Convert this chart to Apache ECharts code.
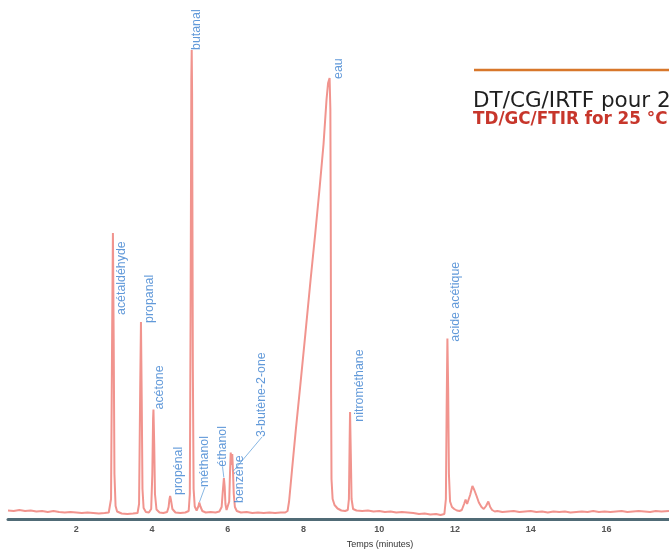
<!DOCTYPE html>
<html>
<head>
<meta charset="utf-8">
<script src="https://cdn.jsdelivr.net/npm/echarts@6/dist/echarts.min.js"></script>
<style>
  html, body { margin: 0; padding: 0; background: #ffffff; }
  #chart { width: 669px; height: 551px; }
</style>
</head>
<body>
<div id="chart"></div>
<script>
// Retention time (minutes) and detector response of the chromatogram
const times = [
  0.20, 0.35, 0.50, 0.65, 0.80, 0.95, 1.10, 1.25, 1.40, 1.55, 1.70, 1.85, 2.00, 2.15, 2.30, 2.45, 2.60, 2.75,
  2.86, 2.92, 2.95, 2.97, 2.99, 3.01, 3.04, 3.08, 3.20, 3.35, 3.50, 3.62,
  3.66, 3.69, 3.71, 3.73, 3.75, 3.78, 3.84, 3.92,
  3.98, 4.01, 4.03, 4.04, 4.06, 4.08, 4.12, 4.20, 4.30,
  4.40, 4.44, 4.46, 4.48, 4.50, 4.54, 4.62, 4.75, 4.88,
  4.97, 5.00, 5.02, 5.04, 5.05, 5.06, 5.08, 5.10, 5.13, 5.18,
  5.23, 5.25, 5.28, 5.33, 5.42, 5.55, 5.68, 5.78,
  5.84, 5.87, 5.90, 5.92, 5.94, 5.97, 6.01,
  6.04, 6.06, 6.08, 6.10, 6.12, 6.14, 6.16, 6.19, 6.24,
  6.35, 6.50, 6.65, 6.80, 6.95, 7.10, 7.25, 7.40, 7.52,
  7.58, 7.62, 7.70, 7.80, 7.92, 8.05, 8.19, 8.31, 8.43, 8.53, 8.61, 8.65, 8.69,
  8.71, 8.72, 8.73, 8.74, 8.77, 8.82, 8.90, 9.00, 9.10,
  9.17, 9.20, 9.22, 9.23, 9.25, 9.27, 9.31, 9.40,
  9.55, 9.70, 9.85, 10.00, 10.15, 10.30, 10.45, 10.60, 10.75, 10.90, 11.05, 11.20, 11.35, 11.50, 11.62, 11.72,
  11.76, 11.78, 11.80, 11.82, 11.84, 11.87, 11.92, 11.98, 12.05, 12.12,
  12.18, 12.24, 12.28, 12.32, 12.35, 12.40, 12.46, 12.51, 12.57, 12.63, 12.70, 12.76,
  12.82, 12.88, 12.93, 12.98, 13.05, 13.12,
  13.25, 13.40, 13.55, 13.70, 13.85, 14.00, 14.15, 14.30, 14.45, 14.60, 14.75, 14.90,
  15.05, 15.20, 15.35, 15.50, 15.65, 15.80, 15.95, 16.10, 16.25, 16.40, 16.55, 16.70,
  16.85, 17.00, 17.15, 17.30, 17.45, 17.65
];
const signal = [
  1.7, 1.6, 1.8, 1.6, 1.7, 1.5, 1.6, 1.4, 1.6, 1.4, 1.3, 1.4, 1.3, 1.2, 1.3, 1.2, 1.1, 1.2,
  1.3, 4.0, 38.0, 57.2, 36.0, 9.0, 2.6, 1.5, 1.1, 1.0, 1.1, 1.2,
  3.0, 26.0, 39.4, 24.0, 6.0, 2.2, 1.4, 1.3,
  2.0, 9.0, 20.0, 21.9, 15.0, 5.0, 1.9, 1.3, 1.2,
  1.4, 2.4, 3.8, 4.6, 3.9, 2.0, 1.3, 1.2, 1.3,
  1.6, 5.0, 40.0, 88.0, 93.8, 85.0, 30.0, 6.0, 2.5, 1.7,
  2.6, 3.3, 2.5, 1.6, 1.3, 1.4, 1.3, 1.5,
  2.4, 5.5, 8.2, 6.5, 3.0, 1.8, 1.6,
  3.5, 9.0, 13.3, 10.8, 13.0, 9.5, 5.0, 2.4, 1.6,
  1.3, 1.4, 1.2, 1.3, 1.2, 1.3, 1.2, 1.3, 1.3,
  1.6, 3.5, 10.0, 18.0, 27.0, 37.0, 48.0, 57.0, 66.5, 75.0, 84.0, 87.2, 88.2,
  82.0, 60.0, 25.0, 8.0, 4.0, 2.8, 2.1, 1.7, 1.6,
  1.8, 4.0, 16.0, 21.4, 13.0, 4.0, 2.0, 1.7,
  1.6, 1.7, 1.5, 1.6, 1.4, 1.5, 1.3, 1.4, 1.3, 1.2, 1.0, 1.1, 0.9, 1.0, 0.8, 1.0,
  4.0, 22.0, 36.1, 26.0, 9.0, 3.5, 2.4, 2.0, 1.7, 1.6,
  1.8, 3.0, 3.9, 3.0, 2.6, 4.8, 6.6, 5.8, 4.6, 3.3, 2.4, 2.0,
  2.6, 3.5, 2.4, 1.8, 1.5, 1.6,
  1.4, 1.5, 1.6, 1.4, 1.5, 1.6, 1.4, 1.5, 1.3, 1.5, 1.4, 1.5,
  1.3, 1.4, 1.5, 1.4, 1.6, 1.4, 1.5, 1.4, 1.5, 1.6, 1.4, 1.5,
  1.6, 1.5, 1.4, 1.6, 1.5, 1.6
];

// Identified compounds and the retention time of their apex
const peakNames = [
  'acétaldéhyde', 'propanal', 'acétone', 'propénal', 'butanal', 'méthanol',
  'éthanol', 'benzène', '3-butène-2-one', 'eau', 'nitrométhane', 'acide acétique'
];
const peakTimes = [2.97, 3.71, 4.04, 4.48, 5.05, 5.25, 5.90, 6.08, 6.14, 8.69, 9.23, 11.80];

const tickValues = [2, 4, 6, 8, 10, 12, 14, 16];

// Label placement: screen shift [right, down] in px from each apex to the
// foot of its vertical label, and which labels get a guide line
const labelShift = [
  [8.6, 82], [9, 1], [6.5, 0], [8.4, -1], [4.5, 0], [5.7, -15.5],
  [-1.4, -11.3], [9.3, 50.5], [29, -34.5], [8.5, 1], [9.4, 9.7], [8.6, 3.2]
];
const guided = [false, false, false, false, false, true, true, false, true, false, false, false];

const trace = times.map((t, i) => [t, signal[i]]);
const apexes = peakTimes.map((t, i) => ({
  name: peakNames[i],
  value: [t, signal[times.indexOf(t)]],
  labelLine: { show: guided[i] }
}));

const chart = echarts.init(document.getElementById('chart'), null, { renderer: 'canvas' });

chart.setOption({
  backgroundColor: '#ffffff',
  animation: false,
  grid: { left: 8, right: 0, top: 19, bottom: 32 },
  xAxis: {
    type: 'value',
    min: 0.2,
    max: 17.65,
    axisLine: { show: true, lineStyle: { color: '#506b76', width: 3 } },
    axisTick: { show: false },
    splitLine: { show: false },
    axisLabel: {
      customValues: tickValues,
      margin: 6,
      fontFamily: 'Arial',
      fontSize: 9,
      fontWeight: 'bold',
      color: '#555555'
    }
  },
  yAxis: {
    type: 'value',
    min: 0,
    max: 100,
    show: false
  },
  series: [
    {
      type: 'line',
      data: trace,
      showSymbol: false,
      symbol: 'none',
      lineStyle: { color: '#f1948e', width: 2 },
      z: 2
    },
    {
      type: 'scatter',
      data: apexes,
      symbol: 'circle',
      symbolSize: 1,
      itemStyle: { color: 'rgba(0,0,0,0)' },
      label: {
        show: true,
        position: 'inside',
        rotate: 90,
        align: 'left',
        verticalAlign: 'middle',
        formatter: '{b}',
        fontFamily: 'Arial',
        fontSize: 12.4,
        color: '#3a7fd0'
      },
      labelLine: {
        show: false,
        lineStyle: { color: '#6aa4dc', width: 0.8 }
      },
      // the layout shift is expressed in the label's own (rotated) frame
      labelLayout: function (p) {
        const s = labelShift[p.dataIndex];
        return { dx: -s[1], dy: s[0] };
      },
      z: 3
    }
  ],
  graphic: [
    {
      type: 'line',
      shape: { x1: 474, y1: 70, x2: 669, y2: 70 },
      style: { stroke: '#d8772b', lineWidth: 2.5 }
    },
    {
      type: 'text',
      x: 473,
      y: 101,
      style: {
        text: 'DT/CG/IRTF pour 25 °C',
        font: '21.5px "DejaVu Sans"',
        fill: '#1f1f1f',
        textVerticalAlign: 'middle'
      }
    },
    {
      type: 'text',
      x: 473,
      y: 120,
      style: {
        text: 'TD/GC/FTIR for 25 °C',
        font: 'bold 16.8px "DejaVu Sans"',
        fill: '#c7362b',
        textVerticalAlign: 'middle'
      }
    },
    {
      type: 'text',
      x: 380,
      y: 545,
      style: {
        text: 'Temps (minutes)',
        font: '9px Arial',
        fill: '#333333',
        textAlign: 'center',
        textVerticalAlign: 'middle'
      }
    }
  ]
});
</script>
</body>
</html>
